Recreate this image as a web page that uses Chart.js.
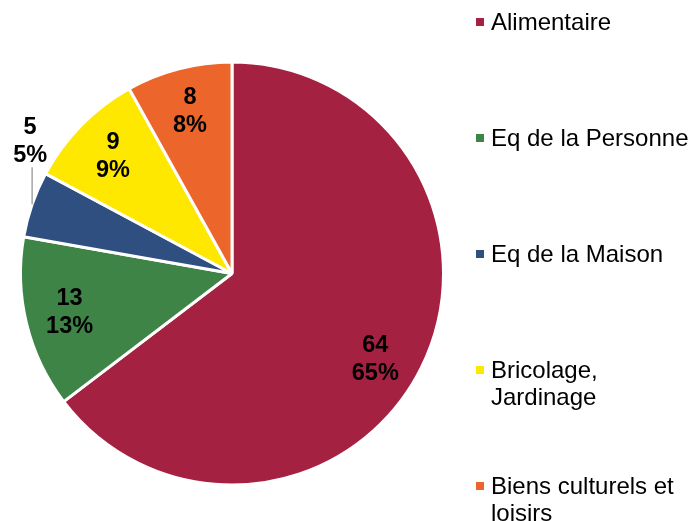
<!DOCTYPE html>
<html>
<head>
<meta charset="utf-8">
<script src="https://cdn.jsdelivr.net/npm/chart.js@4.4.1/dist/chart.umd.min.js"></script>
<style>
  html, body { margin: 0; padding: 0; background: #fff; }
  #wrap { width: 691px; height: 521px; position: relative; }
</style>
</head>
<body>
<div id="wrap"><canvas id="myChart" width="691" height="521"></canvas></div>
<script>
const categories = ["Alimentaire", "Eq de la Personne", "Eq de la Maison", "Bricolage, Jardinage", "Biens culturels et loisirs"];
const values = [64, 13, 5, 9, 8];
const sliceColors = ["#A52142", "#3D8446", "#2F4F80", "#FFE800", "#EC662C"];

const FONT = '"Liberation Sans", Arial, sans-serif';
const total = values.reduce((a, b) => a + b, 0);

// labels inside the slices, small slices get a leader line and sit outside
const sliceLabels = {
  id: "sliceLabels",
  afterDatasetsDraw(chart) {
    const ctx = chart.ctx;
    const arcs = chart.getDatasetMeta(0).data;
    ctx.save();
    ctx.font = "bold 23.5px " + FONT;
    ctx.fillStyle = "#000";
    ctx.textAlign = "center";
    ctx.textBaseline = "middle";
    arcs.forEach((arc, i) => {
      const p = arc.getProps(["x", "y", "startAngle", "endAngle", "outerRadius"], true);
      const mid = (p.startAngle + p.endAngle) / 2;
      const lines = [String(values[i]), Math.round(values[i] / total * 100) + "%"];
      let cx, cy;
      if (values[i] / total < 0.07) {
        const ex = p.x + Math.cos(mid) * p.outerRadius;
        const ey = p.y + Math.sin(mid) * p.outerRadius;
        ctx.strokeStyle = "#A6A6A6";
        ctx.lineWidth = 1.5;
        ctx.beginPath();
        ctx.moveTo(ex, ey);
        ctx.lineTo(ex, ey - 37);
        ctx.stroke();
        cx = ex - 2;
        cy = ey - 37 - 4 - 22;
      } else {
        // the big slice label sits a bit lower, like the original
        const ang = i === 0 ? mid + 0.08 : mid;
        cx = p.x + Math.cos(ang) * p.outerRadius * 0.79;
        cy = p.y + Math.sin(ang) * p.outerRadius * 0.79;
      }
      ctx.fillText(lines[0], cx, cy - 14);
      ctx.fillText(lines[1], cx, cy + 14);
    });
    ctx.restore();
  }
};

function wrapText(ctx, text, maxW) {
  const words = text.split(" ");
  const out = [];
  let line = "";
  words.forEach(w => {
    const test = line ? line + " " + w : w;
    if (ctx.measureText(test).width > maxW && line) {
      out.push(line);
      line = w;
    } else {
      line = test;
    }
  });
  out.push(line);
  return out;
}

// legend down the right side
const sideLegend = {
  id: "sideLegend",
  afterDraw(chart) {
    const ctx = chart.ctx;
    ctx.save();
    ctx.font = "24px " + FONT;
    ctx.textBaseline = "alphabetic";
    ctx.textAlign = "left";
    categories.forEach((c, i) => {
      const base = 30 + i * 116;
      ctx.fillStyle = sliceColors[i];
      ctx.fillRect(476, base - 12, 8, 8);
      ctx.fillStyle = "#000";
      wrapText(ctx, c, 200).forEach((ln, j) => {
        ctx.fillText(ln, 491, base + j * 27);
      });
    });
    ctx.restore();
  }
};

const data = {
  labels: categories,
  datasets: [{
    data: values,
    backgroundColor: sliceColors,
    borderColor: "#FFFFFF",
    borderWidth: 3,
    hoverOffset: 0
  }]
};

const config = {
  type: "pie",
  data: data,
  options: {
    responsive: false,
    animation: false,
    layout: { padding: { left: 19, right: 246, top: 60, bottom: 34 } },
    plugins: {
      legend: { display: false },
      tooltip: { enabled: false }
    }
  },
  plugins: [sliceLabels, sideLegend]
};

const myChart = new Chart(document.getElementById("myChart"), config);
</script>
</body>
</html>
